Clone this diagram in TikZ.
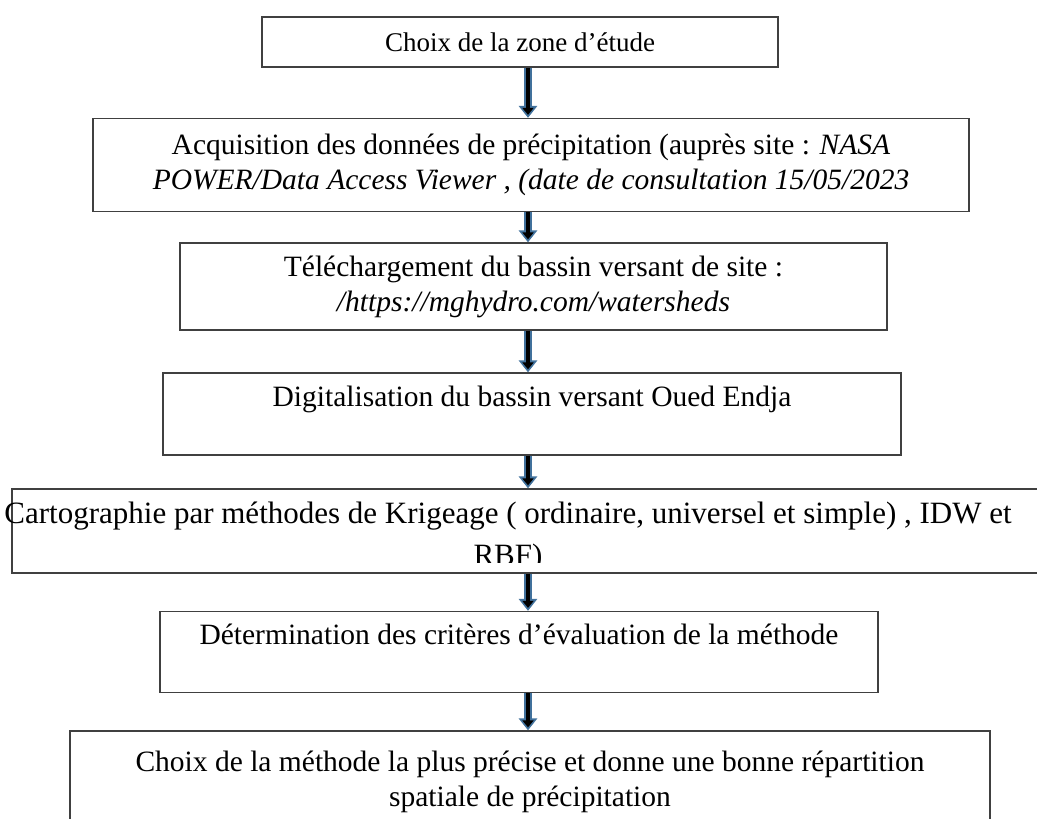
\documentclass[tikz,border=0pt]{standalone}
\usepackage{fontspec}
\setmainfont{Liberation Serif}
\usetikzlibrary{arrows.meta}
\definecolor{arrowblue}{HTML}{41719C}
\definecolor{boxgray}{HTML}{404040}

\begin{document}
\begin{tikzpicture}[x=1pt,y=-1pt,every node/.style={font=\fontsize{29.5}{35}\selectfont},
  etape/.style={draw=boxgray, line width=1.3pt, inner sep=0pt, align=center},
  flow/.style={draw=arrowblue, line width=8pt, -{Triangle[width=18pt,length=12pt]},
    postaction={draw=black, line width=4pt, shorten >=3pt, -{Triangle[width=11pt,length=7pt]}}}]
   \useasboundingbox (0,0) rectangle (1037,819);
   \coordinate (axe) at (528,0);
   \node[etape, minimum width=516pt, minimum height=50pt, font=\fontsize{27}{35}\selectfont] (zone) at (520,42) {Choix de la zone d’étude};
   \node[etape, minimum width=876pt, minimum height=93pt] (acq) at (531,165) {Acquisition des données de précipitation (auprès site : \textit{NASA}\\ \textit{POWER/Data Access Viewer , (date de consultation 15/05/2023}};
   \node[etape, minimum width=707pt, minimum height=87pt] (bassin) at (533.5,286.5) {Téléchargement du bassin versant de site :\\ \textit{/https://mghydro.com/watersheds}};
   \node[etape, minimum width=738pt, minimum height=82pt] (digit) at (532,414) {Digitalisation du bassin versant Oued Endja\\ \mbox{}};
   \node[etape, minimum width=1033pt, minimum height=84pt] (carto) at (528.5,531) {};
   \begin{scope}
      \clip (0,489) rectangle (1037,562);
      \node[align=center, inner sep=0pt, font=\fontsize{31}{42}\selectfont] (cartotxt) at (508,537) {Cartographie par méthodes de Krigeage ( ordinaire, universel et simple) , IDW et\\ RBF)};
   \end{scope}
   \node[etape, minimum width=718pt, minimum height=81pt] (eval) at (519,652) {Détermination des critères d’évaluation de la méthode\\ \mbox{}};
   \node[etape, minimum width=920pt, minimum height=102pt] (choix) at (530,782) {Choix de la méthode la plus précise et donne une bonne répartition\\ spatiale de précipitation};
   \draw[flow] (zone.south -| axe) -- (acq.north -| axe);
   \draw[flow] (acq.south -| axe) -- (bassin.north -| axe);
   \draw[flow] (bassin.south -| axe) -- (digit.north -| axe);
   \draw[flow] (digit.south -| axe) -- (carto.north -| axe);
   \draw[flow] (carto.south -| axe) -- (eval.north -| axe);
   \draw[flow] (eval.south -| axe) -- (choix.north -| axe);
\end{tikzpicture}
\end{document}
